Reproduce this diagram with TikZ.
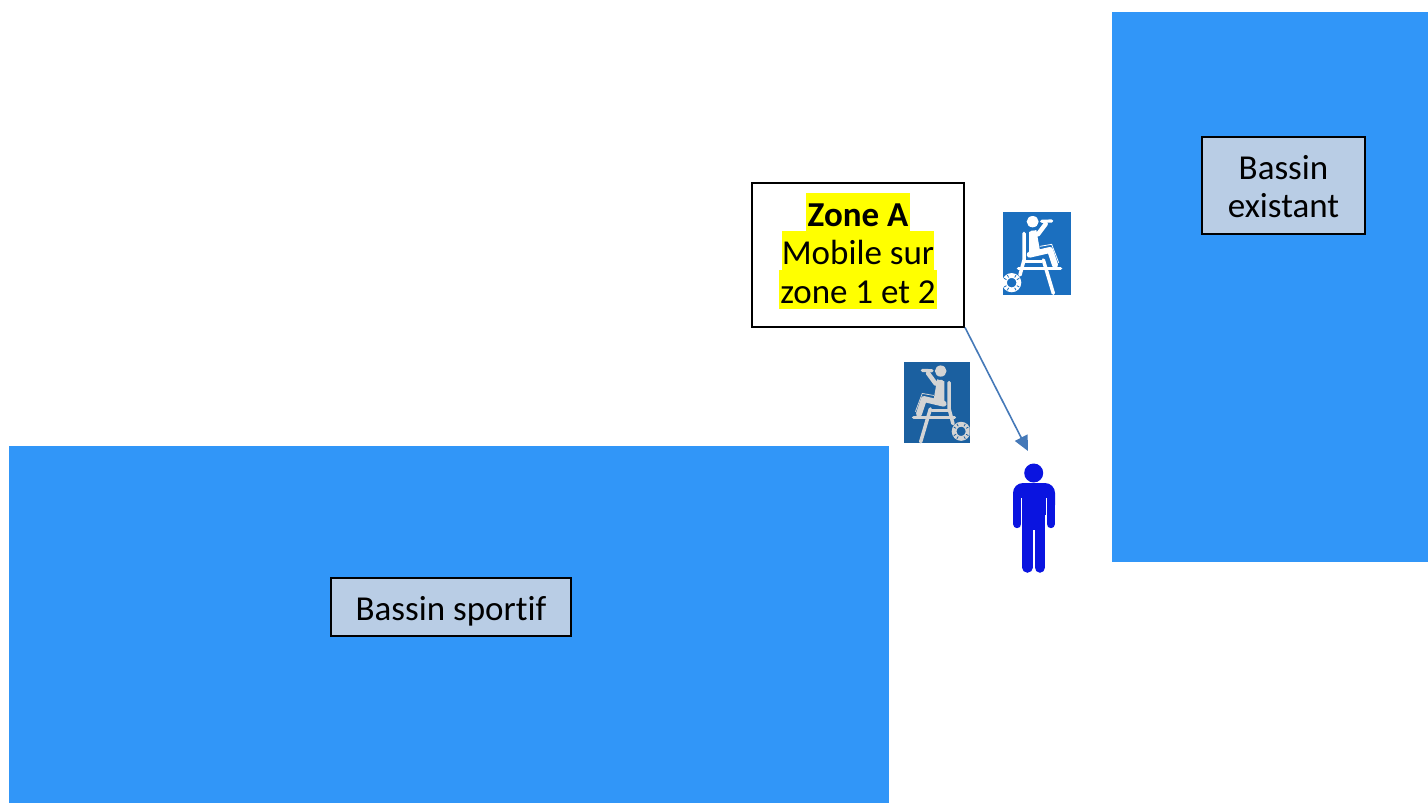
\documentclass[tikz,border=0pt]{standalone}
\usepackage{fontspec}
\setmainfont{Carlito}[Ligatures=NoCommon]
\usetikzlibrary{arrows.meta}
\definecolor{pool}{HTML}{3196F8}
\definecolor{labelfill}{HTML}{B9CDE5}
\definecolor{arrowblue}{HTML}{4579B8}
\definecolor{personblue}{HTML}{0A14E0}
\definecolor{iconone}{HTML}{1B6FBF}
\definecolor{icontwo}{HTML}{1B60A0}
\definecolor{glyphtwo}{HTML}{D4D4D4}
\definecolor{hlyellow}{HTML}{FFFF00}
\tikzset{
  x=1pt,y=-1pt,
  poolrect/.style={fill=pool,draw=none},
  labelbox/.style={draw=black,line width=1.6pt,fill=labelfill,inner sep=0pt,align=center,font=\fontsize{35}{39}\selectfont},
  hl/.style={fill=hlyellow,inner xsep=0pt,inner ysep=0pt,minimum height=39.2pt,font=\fontsize{35}{39}\selectfont,text height=30.5pt,text depth=2.5pt},
  glyph/.style={line cap=round,line join=round},
}
% icon drawn in zoomed units (3 per pixel); #1 ground, #2 figure
\newcommand{\lifeguard}[2]{%
  \fill[#1] (0,0) rectangle (204,249);
  \begin{scope}
    \clip (0,0) rectangle (204,249);
    \draw[#2,line width=4.8pt] (26,212) circle (21.5);
    \foreach \a in {30,60,120,150,210,240,300,330}
      \draw[#1,line width=.8pt] (26,212) ++(\a:18) -- ++(\a:8);
  \end{scope}
  \fill[#2] (89,29) ellipse (18 and 17);
  \draw[glyph,#2,line width=3.5pt] (63,64) -- (63,144) -- (51,189);
  \draw[glyph,#2,line width=3.2pt] (46,169) -- (173,169);
  \draw[glyph,#2,line width=3pt] (63,149) -- (116,149);
  \draw[glyph,#2,line width=3.5pt] (121,144) -- (151,244);
  % torso and raised arm
  \fill[glyph,#2] (78,60) -- (100,54) -- (112,122) -- (78,130) -- cycle;
  \draw[glyph,#2,line width=4.5pt] (88,62) -- (104,68) -- (128,36);
  \draw[glyph,#2,line width=3.2pt] (116,28) -- (146,27);
  % thigh and shin
  \draw[glyph,#2,line width=6pt] (80,128) -- (141,114) -- (156,159);
  \draw[glyph,#2,line width=.8pt] (111,103) -- (146,97) -- (167,152);
}
\begin{document}
\begin{tikzpicture}
\useasboundingbox (0,0) rectangle (1428,803);
\fill[white] (0,0) rectangle (1428,803);
\fill[poolrect] (9,446) rectangle (889,803);
\fill[poolrect] (1112,12) rectangle (1428,562);

\node[labelbox,minimum width=240pt,minimum height=58pt] (sportif) at (451,607) {\smash{\raisebox{-13.5pt}{Bassin sportif}}};
\node[labelbox,minimum width=163pt,minimum height=97pt] (existant) at (1283.5,185.5) {\smash{\raisebox{-13.5pt}{Bassin}}\\\smash{\raisebox{-12.5pt}{existant}}};

\node[draw=black,line width=2pt,fill=white,minimum width=212pt,minimum height=144pt,inner sep=0pt] (zone) at (858,254.5) {};
\node[hl,minimum width=104pt] (l1) at (858,212.2) {\textbf{Zone A}};
\node[hl,minimum width=150pt] (l2) at (858,250.6) {Mobile sur};
\node[hl,minimum width=158pt] (l3) at (858,289.6) {zone 1 et 2};

\coordinate (tip) at (1028,451);
\draw[arrowblue,line width=1.6pt,-{Triangle[length=15pt,width=14pt]}] (zone.south east) -- (tip);

% lifeguard icons
\begin{scope}[shift={(1003,212)},x=0.3333pt,y=-0.3333pt]
  \lifeguard{iconone}{white}
\end{scope}
\begin{scope}[shift={(969.5,361.5)},x=-0.3235pt,y=-0.3293pt]
  \lifeguard{icontwo}{glyphtwo}
\end{scope}

% person
\node[circle,fill=personblue,minimum size=19pt,inner sep=0pt] (head) at (1033.7,473) {};
\fill[personblue,rounded corners=10pt] (1013,483) rectangle (1055,515);
\fill[personblue] (1022,490) rectangle (1045,530);
\draw[personblue,line width=8.4pt,line cap=round] (1017.2,500) -- (1017.2,524);
\draw[personblue,line width=8.4pt,line cap=round] (1050.8,500) -- (1050.8,524);
\draw[personblue,line width=10.5pt,line cap=round] (1027.4,510) -- (1027.4,567.5);
\draw[personblue,line width=10.5pt,line cap=round] (1039.8,510) -- (1039.8,567.5);
\fill[white] (1021.4,498) rectangle (1022.3,530);
\fill[white] (1045.7,498) rectangle (1046.6,530);
\end{tikzpicture}
\end{document}
